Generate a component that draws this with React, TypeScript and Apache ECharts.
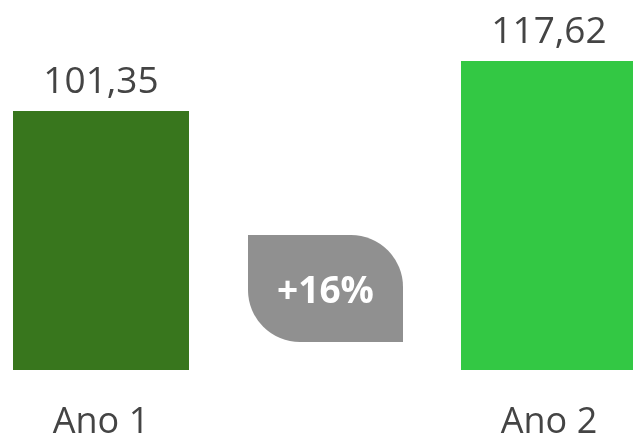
import React, { useEffect, useRef } from "react";
import * as echarts from "echarts";

const categories = ["Ano 1", "Ano 2"];
const values = [101.35, 117.62];
const barColors = ["#38761d", "#33c844"];
const changeLabel = "+16%";

export default function App() {
  const ref = useRef<HTMLDivElement>(null);
  useEffect(() => {
    if (!ref.current) return;
    const chart = echarts.init(ref.current, null, { renderer: "svg" });
    chart.setOption({
      animation: false,
      textStyle: { fontFamily: "Open Sans" },
      grid: { left: 101, right: 84, top: 61, bottom: 69 },
      xAxis: {
        type: "category",
        data: categories,
        boundaryGap: false,
        axisLine: { show: false },
        axisTick: { show: false },
        axisLabel: {
          fontSize: 36,
          color: "#444444",
          fontFamily: "Open Sans",
          margin: 31,
        },
      },
      yAxis: {
        type: "value",
        min: 17.07,
        max: 117.62,
        show: false,
        splitLine: { show: false },
      },
      series: [
        {
          type: "bar",
          barWidth: 176,
          data: values.map((v, i) => ({ value: v, itemStyle: { color: barColors[i] } })),
          label: {
            show: true,
            position: "top",
            distance: 14,
            fontSize: 37,
            color: "#444444",
            fontFamily: "Open Sans",
            formatter: (p: any) => p.value.toFixed(2).replace(".", ","),
          },
        },
      ],
      graphic: [
        {
          type: "rect",
          shape: { x: 248, y: 235, width: 155, height: 107, r: [0, 52, 0, 52] },
          style: { fill: "#909090" },
        },
        {
          type: "text",
          x: 325.5,
          y: 288,
          style: {
            text: changeLabel,
            fill: "#ffffff",
            fontSize: 37,
            fontWeight: "bold",
            fontFamily: "Open Sans",
            align: "center",
            verticalAlign: "middle",
          },
        },
      ],
    });
    return () => chart.dispose();
  }, []);
  return (
    <div
      ref={ref}
      style={{ position: "fixed", left: 0, top: 0, width: 633, height: 439 }}
    />
  );
}
